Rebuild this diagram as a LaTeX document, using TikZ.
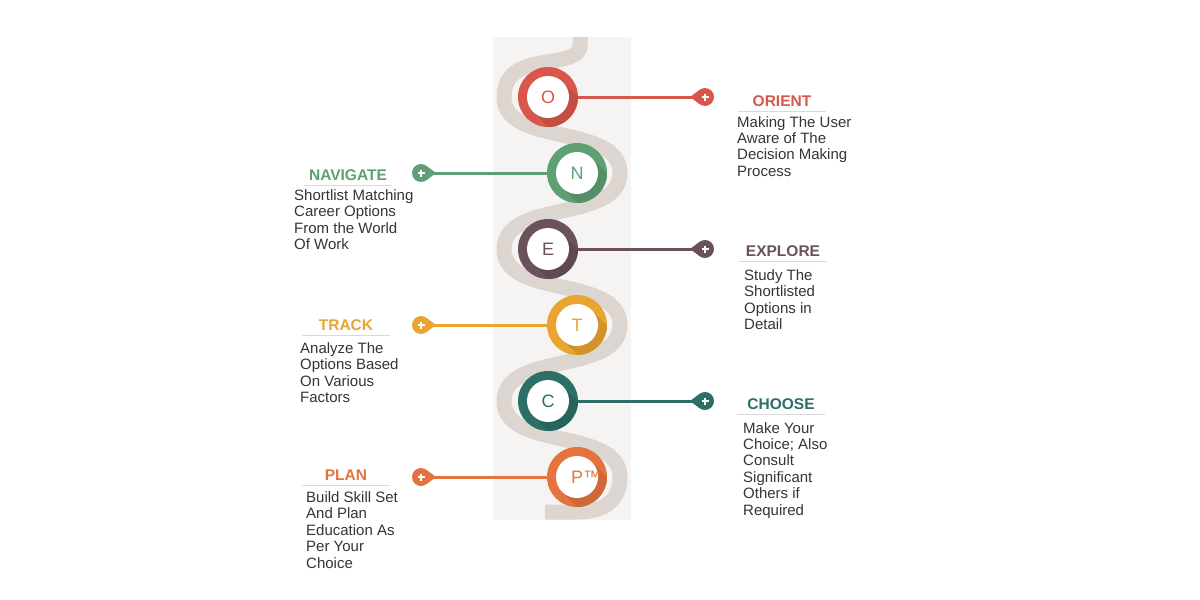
\documentclass[tikz,border=0pt]{standalone}
\usepackage{fontspec}
\setmainfont{Liberation Sans}
\usetikzlibrary{calc}

\definecolor{orientc}{HTML}{D9574A}
\definecolor{navc}{HTML}{5E9F73}
\definecolor{explc}{HTML}{6B515B}
\definecolor{trackc}{HTML}{E9A52F}
\definecolor{choosec}{HTML}{2B6F66}
\definecolor{planc}{HTML}{E5733F}
\definecolor{panelc}{HTML}{F6F4F2}
\definecolor{trailc}{HTML}{DDD5CF}
\definecolor{rulec}{HTML}{DADADA}
\definecolor{textc}{HTML}{353535}

\begin{document}
\begin{tikzpicture}[x=1pt,y=-1pt,
    ring/.style={circle,fill=#1,text=#1,minimum size=60pt,inner sep=0pt,
      font=\fontsize{18}{18}\selectfont,
      path picture={
        \fill[#1!90!black] ($(path picture bounding box.center)+(14.85pt,14.85pt)$)
          -- ++(28.3pt,-28.3pt) -- ++(-29.7pt,-29.7pt) -- ++(-28.3pt,28.3pt) -- cycle;
        \fill[white] (path picture bounding box.center) circle[radius=21pt];}},
    knob/.style={circle,fill=#1,minimum size=18pt,inner sep=0pt,
      path picture={
        \draw[white,line width=1.6pt] ($(path picture bounding box.center)+(-3.5pt,0pt)$) -- ++(7pt,0pt);
        \draw[white,line width=1.6pt] ($(path picture bounding box.center)+(0pt,-3.5pt)$) -- ++(0pt,7pt);}},
    spoke/.style={draw=#1,line width=3pt},
    trail/.style={draw=trailc,line width=15pt},
    head/.style={text=#1,font=\fontsize{15.5}{16}\selectfont\bfseries,anchor=base,
      minimum width=88pt,text depth=0pt,inner xsep=0pt,inner ysep=5pt},
    rule/.style={draw=rulec,line width=1.2pt},
    body/.style={text=textc,font=\fontsize{15}{16.4}\selectfont,anchor=north west,
      align=left,inner sep=0pt}]
  \useasboundingbox (0,0) rectangle (1200,600);
  \fill[white] (0,0) rectangle (1200,600);

  % winding road behind the letters
  \fill[panelc] (493,37) rectangle (631,520);
  \begin{scope}
    \clip (493,37) rectangle (631,520);
    \draw[trail] (580,37) -- (580,45) .. controls (580,72) and (504,48) .. (504,97)
      .. controls (504,147) and (620,123) .. (620,173)
      .. controls (620,223) and (504,199) .. (504,249)
      .. controls (504,299) and (620,275) .. (620,325)
      .. controls (620,375) and (504,351) .. (504,401)
      .. controls (504,451) and (620,427) .. (620,477)
      .. controls (620,502) and (602,512) .. (577,512) -- (545,512);
  \end{scope}

  % letters, spokes and knobs
  \foreach \n/\l/\c/\rx/\ry/\kx/\tip in {o/O/orientc/548/97/705/-15,
      n/N/navc/577/173/421/15, e/E/explc/548/249/705/-15,
      t/T/trackc/577/325/421/15, c/C/choosec/548/401/705/-15,
      p/P\rlap{™}/planc/577/477/421/15}{
    \node[ring=\c] (\n) at (\rx,\ry) {\l};
    \node[knob=\c] (\n k) at (\kx,\ry) {};
    \draw[spoke=\c] (\n) -- (\n k);
    \fill[\c] ([xshift={0.36*(\tip)*1pt},yshift=7.2pt]\n k.center)
      -- ([xshift=\tip pt]\n k.center)
      -- ([xshift={0.36*(\tip)*1pt},yshift=-7.2pt]\n k.center) -- cycle;
  }

  % right column
  \node[head=orientc] (orienth) at (782,106) {ORIENT};
  \draw[rule] (orienth.south west) -- (orienth.south east);
  \node[body] (orientb) at (737,116) {Making The User\\Aware of The\\Decision Making\\Process};

  \node[head=explc] (explh) at (783,256.5) {EXPLORE};
  \draw[rule] (explh.south west) -- (explh.south east);
  \node[body] (explb) at (744,269.5) {Study The\\Shortlisted\\Options in\\Detail};

  \node[head=choosec] (chooseh) at (781,409.5) {CHOOSE};
  \draw[rule] (chooseh.south west) -- (chooseh.south east);
  \node[body] (chooseb) at (743,422) {Make Your\\Choice; Also\\Consult\\Significant\\Others if\\Required};

  % left column
  \node[head=navc] (navh) at (348,180.5) {NAVIGATE};
  \draw[rule] (navh.south west) -- (navh.south east);
  \node[body] (navb) at (294,189.5) {Shortlist Matching\\Career Options\\From the World\\Of Work};

  \node[head=trackc] (trackh) at (346,330.5) {TRACK};
  \draw[rule] (trackh.south west) -- (trackh.south east);
  \node[body] (trackb) at (300,342.5) {Analyze The\\Options Based\\On Various\\Factors};

  \node[head=planc] (planh) at (346,480.5) {PLAN};
  \draw[rule] (planh.south west) -- (planh.south east);
  \node[body] (planb) at (306,491.5) {Build Skill Set\\And Plan\\Education As\\Per Your\\Choice};
\end{tikzpicture}
\end{document}
